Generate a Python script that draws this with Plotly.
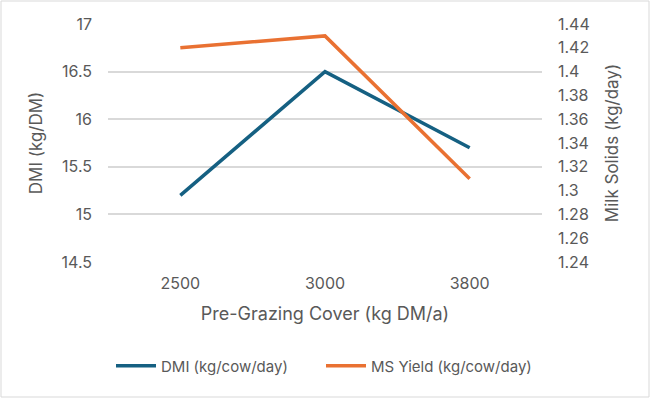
import plotly.graph_objects as go

categories = ["2500", "3000", "3800"]
dmi = [15.2, 16.5, 15.7]
ms_yield = [1.42, 1.43, 1.31]
left_ticks = [14.5, 15, 15.5, 16, 16.5, 17]
right_ticks = [1.24, 1.26, 1.28, 1.3, 1.32, 1.34, 1.36, 1.38, 1.4, 1.42, 1.44]

BLUE = "#156082"
ORANGE = "#E97132"
TXT = "#595959"
GRID = "#D9D9D9"
FONT = "Inter"

fig = go.Figure()
fig.add_trace(go.Scatter(x=categories, y=dmi, mode="lines", name="DMI (kg/cow/day)",
                         line=dict(color=BLUE, width=3.5), yaxis="y", legendwidth=155))
fig.add_trace(go.Scatter(x=categories, y=ms_yield, mode="lines", name="MS Yield (kg/cow/day)",
                         line=dict(color=ORANGE, width=3.5), yaxis="y2"))

L, R, T, B = 108, 108, 24, 136
W, H = 650, 398
pw = W - L - R
ph = H - T - B

fig.update_layout(
    width=W, height=H,
    margin=dict(l=L, r=R, t=T, b=B, autoexpand=False),
    paper_bgcolor="white", plot_bgcolor="white",
    font=dict(family=FONT, color=TXT, size=15),
    showlegend=True,
    legend=dict(orientation="h", x=3 / pw, xanchor="left",
                y=-(366 - 262) / ph, yanchor="middle",
                font=dict(size=15, color=TXT), traceorder="normal", itemwidth=40),
    xaxis=dict(type="category", range=[-0.5, 2.5], showgrid=False, zeroline=False,
               showline=False, ticks="", tickfont=dict(size=16, color=TXT), ticklabelstandoff=10,
               title=dict(text="Pre-Grazing Cover (kg DM/a)", font=dict(size=18, color=TXT), standoff=15)),
    yaxis=dict(range=[14.5, 17], tickvals=left_ticks, ticktext=[f"{v:g}" for v in left_ticks],
               showgrid=True, gridcolor=GRID, gridwidth=1.5, zeroline=False, showline=False,
               tickfont=dict(size=16, color=TXT), ticklabelstandoff=15,
               title=dict(text="DMI (kg/DM)", font=dict(size=17, color=TXT), standoff=14)),
    yaxis2=dict(range=[1.24, 1.44], tickvals=right_ticks, ticktext=[f"{v:g}" for v in right_ticks],
                overlaying="y", side="right", showgrid=False, zeroline=False, showline=False,
                tickfont=dict(size=16, color=TXT), ticklabelstandoff=15,
                title=dict(text="Milk Solids (kg/day)", font=dict(size=17, color=TXT), standoff=17)),
    shapes=[dict(type="rect", xref="paper", yref="paper",
                 x0=-(L - 1) / pw, x1=1 + (R - 1) / pw, y0=-(B - 1) / ph, y1=1 + (T - 1) / ph,
                 line=dict(color=GRID, width=1), layer="below")],
)

fig.write_html("out.html", config={"displayModeBar": False},
               post_script="document.body.style.margin='0';")
